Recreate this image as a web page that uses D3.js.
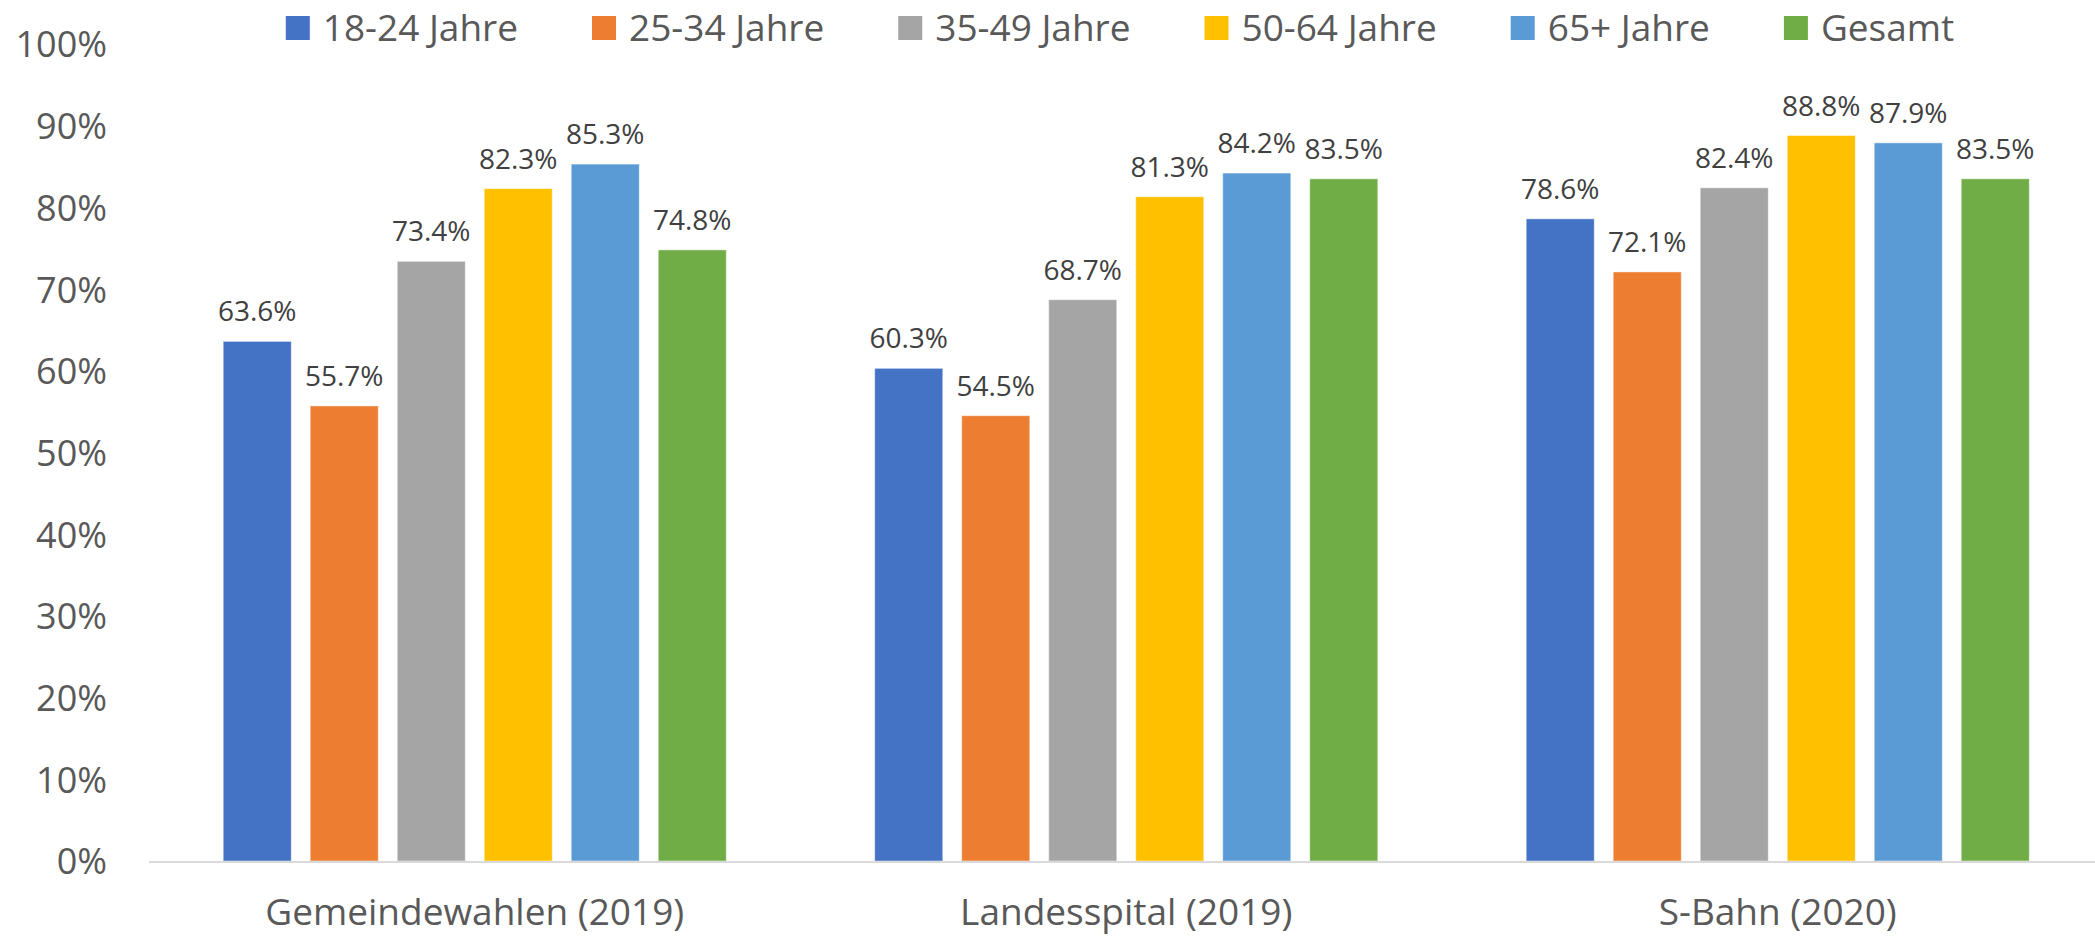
<!DOCTYPE html>
<html>
<head>
<meta charset="utf-8">
<script src="https://cdn.jsdelivr.net/npm/d3@7"></script>
<style>
  html, body { margin: 0; padding: 0; background: #fff; }
  svg { display: block; font-family: "Open Sans", sans-serif; }
  .axis text { fill: #595959; font-size: 36px; font-family: "Open Sans", sans-serif; }
  .catlabel { fill: #595959; font-size: 37px; }
  .vlabel { fill: #404040; font-size: 28px; }
  .legend text { fill: #595959; font-size: 37px; }
</style>
</head>
<body>
<div id="chart"></div>
<script>
// chart data
var categories = ['Gemeindewahlen (2019)', 'Landesspital (2019)', 'S-Bahn (2020)'];
var seriesNames = ['18-24 Jahre', '25-34 Jahre', '35-49 Jahre', '50-64 Jahre', '65+ Jahre', 'Gesamt'];
var age18_24 = [63.6, 60.3, 78.6];
var age25_34 = [55.7, 54.5, 72.1];
var age35_49 = [73.4, 68.7, 82.4];
var age50_64 = [82.3, 81.3, 88.8];
var age65plus = [85.3, 84.2, 87.9];
var gesamt = [74.8, 83.5, 83.5];
var yTicks = [0, 10, 20, 30, 40, 50, 60, 70, 80, 90, 100];

var colors = ['#4472C4', '#ED7D31', '#A5A5A5', '#FFC000', '#5B9BD5', '#70AD47'];

var width = 2095, height = 937;
var seriesValues = [age18_24, age25_34, age35_49, age50_64, age65plus, gesamt];

var svg = d3.select('#chart').append('svg')
	.attr('width', width)
	.attr('height', height);

var x0 = d3.scaleBand()
	.domain(categories)
	.range([149, 149 + 3 * 651.5])
	.padding(0);

var x1 = d3.scaleBand()
	.domain(seriesNames)
	.range([0, x0.bandwidth()])
	.paddingInner(0.218)
	.paddingOuter(0.853);

var y = d3.scaleLinear()
	.domain([0, 100])
	.range([861, 44]);

// y axis labels, no line
var yAxis = d3.axisLeft(y)
	.tickValues(yTicks)
	.tickSize(0)
	.tickPadding(0)
	.tickFormat(function(d) { return d + '%'; });

svg.append('g')
	.attr('class', 'axis')
	.attr('transform', 'translate(107,0)')
	.call(yAxis)
	.attr('font-family', null)
	.attr('font-size', null)
	.call(function(g) { g.select('.domain').remove(); })
	.selectAll('text')
	.attr('dy', '0.36em');

// bars
var groups = svg.selectAll('g.group').data(categories)
	.enter()
	.append('g')
	.attr('class', 'group')
	.attr('transform', function(d) { return 'translate(' + x0(d) + ',0)'; });

groups.selectAll('rect').data(function(d, i) {
		return seriesNames.map(function(s, j) { return {series: s, value: seriesValues[j][i], k: j}; });
	})
	.enter()
	.append('rect')
	.attr('x', function(d) { return x1(d.series); })
	.attr('y', function(d) { return y(d.value); })
	.attr('width', x1.bandwidth())
	.attr('height', function(d) { return y(0) - y(d.value); })
	.style('fill', function(d) { return colors[d.k]; })
	.style('stroke', 'rgba(255,255,255,0.45)')
	.style('stroke-width', 1);

groups.selectAll('text.vlabel').data(function(d, i) {
		return seriesNames.map(function(s, j) { return {series: s, value: seriesValues[j][i]}; });
	})
	.enter()
	.append('text')
	.attr('class', 'vlabel')
	.attr('text-anchor', 'middle')
	.attr('x', function(d) { return x1(d.series) + x1.bandwidth() / 2; })
	.attr('y', function(d) { return y(d.value) - 20; })
	.text(function(d) { return d.value.toFixed(1) + '%'; });

// baseline
svg.append('line')
	.attr('x1', 149)
	.attr('x2', width)
	.attr('y1', y(0) + 1)
	.attr('y2', y(0) + 1)
	.style('stroke', '#D9D9D9')
	.style('stroke-width', 2);

// category labels
svg.selectAll('text.catlabel').data(categories)
	.enter()
	.append('text')
	.attr('class', 'catlabel')
	.attr('text-anchor', 'middle')
	.attr('x', function(d) { return x0(d) + x0.bandwidth() / 2; })
	.attr('y', 925)
	.text(function(d) { return d; });

// legend, centred over the plot
var legend = svg.append('g').attr('class', 'legend');
var items = legend.selectAll('g').data(seriesNames)
	.enter()
	.append('g');

items.append('rect')
	.attr('width', 24)
	.attr('height', 24)
	.attr('y', 16)
	.style('fill', function(d, i) { return colors[i]; });

items.append('text')
	.attr('x', 37)
	.attr('y', 41)
	.text(function(d) { return d; });

var pos = 0;
items.each(function() {
	var w = 37 + d3.select(this).select('text').node().getComputedTextLength();
	d3.select(this).attr('transform', 'translate(' + pos + ',0)');
	pos += w + 74;
});
var total = pos - 74;
legend.attr('transform', 'translate(' + (1120 - total / 2) + ',0)');
</script>
</body>
</html>
